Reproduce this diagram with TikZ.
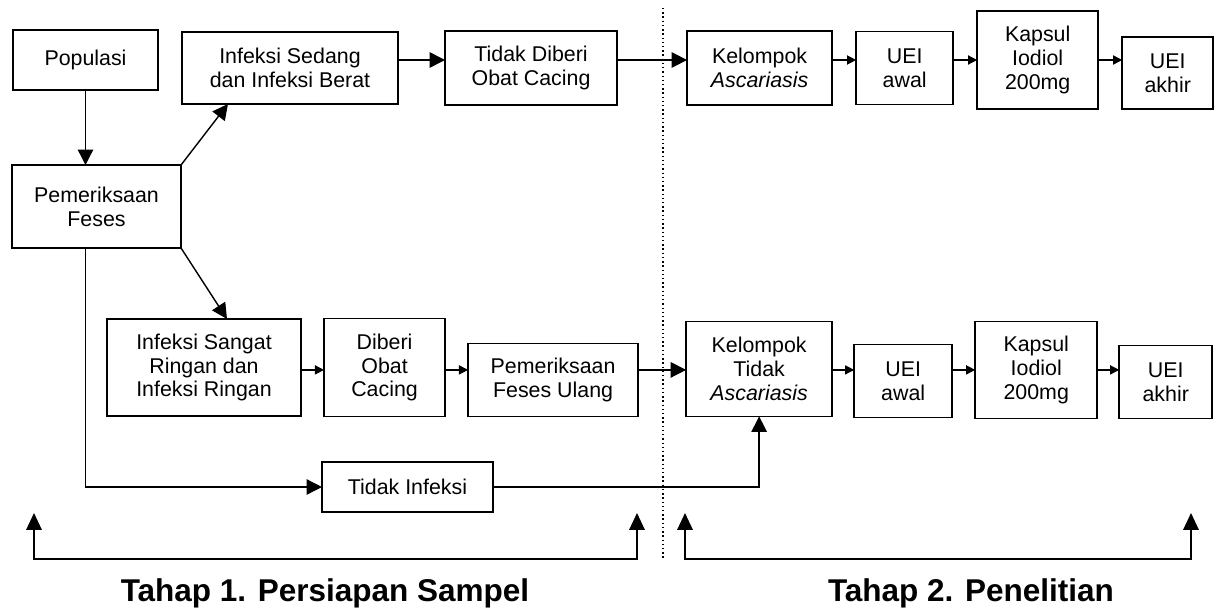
\documentclass[tikz,border=0pt]{standalone}
\usepackage{fontspec}
\setmainfont{Liberation Sans}
\usetikzlibrary{arrows.meta, positioning}

\begin{document}
\begin{tikzpicture}[
    x=0.025cm, y=-0.025cm,
    box/.style={rectangle, draw, line width=1.2pt, align=center, inner sep=0pt, outer sep=0pt, font=\fontsize{15.2}{17}\selectfont},
    arrow/.style={-{Triangle[length=11pt, width=11pt]}, line width=1pt},
    sarrow/.style={-{Triangle[length=6.5pt, width=6.5pt]}, line width=1pt},
    bracket/.style={{Triangle[length=12pt, width=11pt]}-{Triangle[length=12pt, width=11pt]}, line width=1.2pt},
    divider/.style={dotted, line width=1pt},
    title/.style={font=\fontsize{22.4}{26}\selectfont\bfseries, anchor=base},
]
    \useasboundingbox (0,0) rectangle (1216,612);

    % Tahap 1 (left part)
    \node[box, minimum width=3.625cm, minimum height=1.5cm] (pop) at (85.5,60) {Populasi};
    \node[box, minimum width=4.225cm, minimum height=2.075cm] (pem) at (96.5,206.5) {Pemeriksaan\\Feses};
    \node[box, minimum width=5.4cm, minimum height=1.8cm] (infsed) at (290,68) {Infeksi Sedang\\dan Infeksi Berat};
    \node[box, minimum width=4.3cm, minimum height=1.85cm, right=1.175cm of infsed] (tdkobat) {Tidak Diberi\\Obat Cacing};

    \node[box, minimum width=4.85cm, minimum height=2.425cm] (infsr) at (204,367.5) {Infeksi Sangat\\Ringan dan\\Infeksi Ringan};
    \node[box, minimum width=3.025cm, minimum height=2.45cm, right=0.575cm of infsr] (diberi) {Diberi\\Obat\\Cacing};
    \node[box, minimum width=4.25cm, minimum height=1.825cm, right=0.575cm of diberi, yshift=-0.31cm] (pemulang) {Pemeriksaan\\Feses Ulang};
    \node[box, minimum width=4.275cm, minimum height=1.25cm] (tdkinf) at (407.5,487) {Tidak Infeksi};

    % Tahap 2 (right part)
    \node[box, minimum width=3.625cm, minimum height=1.85cm, right=1.75cm of tdkobat] (kelasc) {Kelompok\\\textit{Ascariasis}};
    \node[box, minimum width=2.425cm, minimum height=1.825cm, right=0.6cm of kelasc] (ueiawal1) {UEI\\awal};
    \node[box, minimum width=3.025cm, minimum height=2.45cm, right=0.6cm of ueiawal1, yshift=0.2cm] (kapsul1) {Kapsul\\Iodiol\\200mg};
    \node[box, minimum width=2.275cm, minimum height=1.8cm, right=0.6cm of kapsul1, yshift=-0.325cm] (ueiakhir1) {UEI\\akhir};

    \node[box, minimum width=3.65cm, minimum height=2.375cm, right=1.2cm of pemulang, yshift=0.275cm] (keltdk) {Kelompok\\Tidak\\\textit{Ascariasis}};
    \node[box, minimum width=2.45cm, minimum height=1.825cm, right=0.55cm of keltdk, yshift=-0.3cm] (ueiawal2) {UEI\\awal};
    \node[box, minimum width=3.05cm, minimum height=2.425cm, right=0.575cm of ueiawal2, yshift=0.275cm] (kapsul2) {Kapsul\\Iodiol\\200mg};
    \node[box, minimum width=2.325cm, minimum height=1.825cm, right=0.55cm of kapsul2, yshift=-0.3cm] (ueiakhir2) {UEI\\akhir};

    % Arrows
    \draw[arrow] (pop.south) -- (pop.south |- pem.north);
    \draw[arrow] (pem.north east) -- ([xshift=1.15cm]infsed.south west);
    \draw[arrow] (pem.south east) -- ([xshift=3cm]infsr.north west);
    \draw[arrow] (pem.south -| pop) |- (tdkinf.west);
    \draw[arrow] (infsed.east |- kapsul1) -- (tdkobat.west |- kapsul1);
    \draw[arrow] (tdkobat.east |- kapsul1) -- (kelasc.west |- kapsul1);
    \draw[sarrow] (kelasc.east |- kapsul1) -- (ueiawal1.west |- kapsul1);
    \draw[sarrow] (ueiawal1.east |- kapsul1) -- (kapsul1.west);
    \draw[sarrow] (kapsul1.east) -- (ueiakhir1.west |- kapsul1);

    \draw[sarrow] (infsr.east |- kapsul2) -- (diberi.west |- kapsul2);
    \draw[sarrow] (diberi.east |- kapsul2) -- (pemulang.west |- kapsul2);
    \draw[arrow] (pemulang.east |- kapsul2) -- (keltdk.west |- kapsul2);
    \draw[sarrow] (keltdk.east |- kapsul2) -- (ueiawal2.west |- kapsul2);
    \draw[sarrow] (ueiawal2.east |- kapsul2) -- (kapsul2.west);
    \draw[sarrow] (kapsul2.east) -- (ueiakhir2.west |- kapsul2);
    \draw[arrow] (tdkinf.east) -| (keltdk.south);

    % Divider
    \coordinate (divtop) at (663,8);
    \coordinate (divbot) at (663,558);
    \draw[divider] (divtop) -- (divbot);

    % Brackets and titles
    \coordinate (b1a) at (34,513);
    \coordinate (b1l) at (34,559);
    \coordinate (b1r) at (637,559);
    \coordinate (b1b) at (637,513);
    \draw[bracket] (b1a) -- (b1l) -- (b1r) -- (b1b);
    \coordinate (b2a) at (685,513);
    \coordinate (b2l) at (685,559);
    \coordinate (b2r) at (1191,559);
    \coordinate (b2b) at (1191,513);
    \draw[bracket] (b2a) -- (b2l) -- (b2r) -- (b2b);

    \node[title] (tahap1) at (325,601) {Tahap 1. Persiapan Sampel};
    \node[title] (tahap2) at (971,601) {Tahap 2. Penelitian};

\end{tikzpicture}
\end{document}
